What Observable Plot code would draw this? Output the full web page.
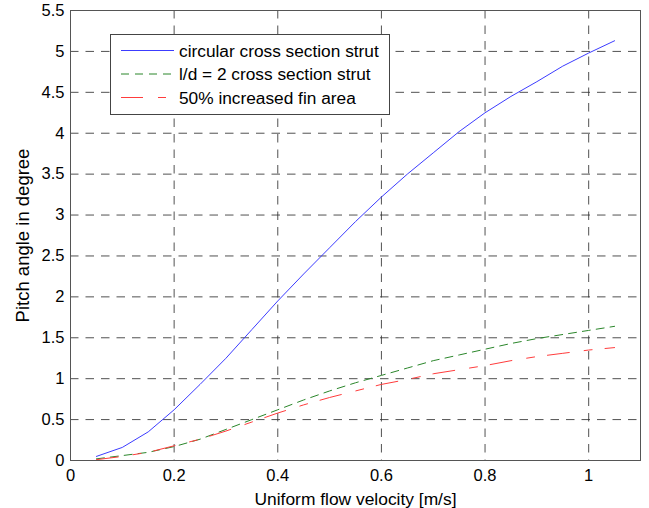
<!DOCTYPE html>
<html><head><meta charset="utf-8">
<script src="https://cdn.jsdelivr.net/npm/d3@7"></script>
<script src="https://cdn.jsdelivr.net/npm/@observablehq/plot@0.6"></script>
<style>
body{margin:0;background:#fff;font-family:"Liberation Sans",Arial,sans-serif}
#wrap{position:relative;width:649px;height:508px}
#legend{position:absolute;left:110px;top:34px}
</style></head><body><div id="wrap"></div>
<script>
const velocity = [0.05,0.1,0.15,0.2,0.25,0.3,0.35,0.4,0.45,0.5,0.55,0.6,0.65,0.7,0.75,0.8,0.85,0.9,0.95,1.0,1.05];
const circular = [0.05,0.16,0.35,0.62,0.93,1.25,1.6,1.95,2.28,2.6,2.92,3.22,3.5,3.76,4.02,4.25,4.45,4.63,4.82,4.98,5.13];
const ld2 = [0.02,0.06,0.1,0.17,0.26,0.38,0.5,0.62,0.74,0.85,0.95,1.04,1.13,1.22,1.29,1.36,1.43,1.49,1.54,1.59,1.64];
const finArea = [0.01,0.05,0.1,0.18,0.26,0.36,0.47,0.58,0.68,0.77,0.85,0.93,0.99,1.06,1.11,1.16,1.22,1.27,1.31,1.35,1.38];
const seriesNames = ["circular cross section strut","l/d = 2 cross section strut","50% increased fin area"];
const xTicks = [0,0.2,0.4,0.6,0.8,1];
const yTicks = [0,0.5,1,1.5,2,2.5,3,3.5,4,4.5,5,5.5];
const xLabel = "Uniform flow velocity [m/s]";
const yLabel = "Pitch angle in degree";

const styles = [
  {stroke:"#3c3cff", dash:null},
  {stroke:"#2a862a", dash:"8,6"},
  {stroke:"#ff3c3c", dash:"22,15,8,13"}
];
const seriesValues = [circular, ld2, finArea];
const rows = seriesValues.flatMap((vals, i) => vals.map((v, j) => ({x: velocity[j], y: v, s: i})));

const gridStyle = {stroke:"#333", strokeOpacity:0.85, strokeDasharray:"8.5,7"};
const font = '"Liberation Sans", Arial, sans-serif';

const chart = Plot.plot({
  width: 649, height: 508,
  marginLeft: 70, marginRight: 9, marginTop: 10, marginBottom: 48,
  style: {fontFamily: font, fontSize: "17px", color: "#000", background: "#fff"},
  x: {domain: [0, 1.1]},
  y: {domain: [0, 5.5]},
  marks: [
    Plot.gridX(xTicks, gridStyle),
    Plot.gridY(yTicks, gridStyle),
    ...styles.map((st, i) => Plot.line(rows.filter(r => r.s === i), {
      x: "x", y: "y", stroke: st.stroke, strokeWidth: 1,
      strokeDasharray: st.dash == null ? undefined : st.dash
    })),
    Plot.frame({stroke: "#555"}),
    Plot.axisX(xTicks, {tickSize: 0, tickPadding: 9, tickFormat: d => String(d), label: null, fontSize: 16.5}),
    Plot.axisY(yTicks, {tickSize: 0, tickPadding: 6, tickFormat: d => String(d), label: null, fontSize: 16.5}),
    Plot.axisX([0.5], {tickSize: 0, tickFormat: () => "", label: xLabel, labelAnchor: "center", labelArrow: "none", labelOffset: 44, fontSize: 17.4}),
    Plot.axisY([2.75], {tickSize: 0, tickFormat: () => "", label: yLabel, labelAnchor: "center", labelArrow: "none", labelOffset: 55, fontSize: 18.5})
  ]
});
const wrap = document.getElementById("wrap");
wrap.appendChild(chart);

// legend
const lw = 280, lh = 81;
const leg = d3.create("svg").attr("id","legend").attr("width", lw).attr("height", lh)
  .style("font-family", font).style("font-size","17.3px");
leg.append("rect").attr("x",0.5).attr("y",0.5).attr("width",lw-1).attr("height",lh-1)
  .attr("fill","#fff").attr("stroke","#444");
seriesNames.forEach((name, i) => {
  const cy = 16.5 + i * 23.5;
  leg.append("line").attr("x1",11).attr("x2",64).attr("y1",cy).attr("y2",cy)
    .attr("stroke", styles[i].stroke).attr("stroke-width",1)
    .attr("stroke-dasharray", styles[i].dash);
  leg.append("text").attr("x",69).attr("y",cy).attr("dy","0.35em").attr("fill","#000").text(name);
});
wrap.appendChild(leg.node());
</script></body></html>
